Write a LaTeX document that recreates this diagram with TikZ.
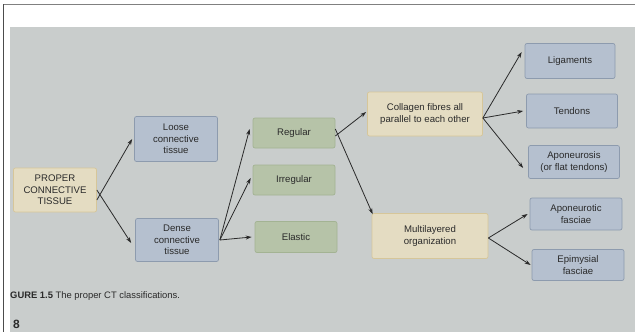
\documentclass[tikz,border=0pt]{standalone}
\usepackage{fontspec}
\setmainfont{Liberation Sans}
\usetikzlibrary{arrows.meta}
\definecolor{photo}{HTML}{C9CDCC}
\definecolor{beigef}{HTML}{E4DCC2}
\definecolor{beiged}{HTML}{D6C699}
\definecolor{bluef}{HTML}{B5C0CF}
\definecolor{blued}{HTML}{8D9BAE}
\definecolor{greenf}{HTML}{B6C3A8}
\definecolor{greend}{HTML}{A3B393}
\definecolor{ink}{HTML}{2A2A2A}
\tikzset{
  box/.style={draw, line width=0.7pt, rounded corners=2pt, align=center, font=\fontsize{9.6}{11.6}\selectfont, text=ink, inner sep=0pt},
  beigebox/.style={box, fill=beigef, draw=beiged},
  bluebox/.style={box, fill=bluef, draw=blued},
  greenbox/.style={box, fill=greenf, draw=greend},
  arr/.style={draw=ink, line width=0.8pt, -{Stealth[length=6pt,width=4pt]}}
}
\begin{document}
\begin{tikzpicture}[x=1pt,y=-1pt]
\useasboundingbox (0,0) rectangle (635,332);
\fill[white] (0,0) rectangle (635,332);
\fill[photo] (10,27) rectangle (635,332);
\draw[gray, line width=1.5pt] (3,4.5) -- (635,4.5);
\draw[black!70, line width=1.5pt] (3.5,4) -- (3.5,332);

\node[beigebox, minimum width=83pt, minimum height=44pt] (pct) at (55,190) {PROPER\\CONNECTIVE\\TISSUE};
\node[bluebox, minimum width=83pt, minimum height=45pt] (loose) at (176,139) {Loose\\connective\\tissue};
\node[bluebox, minimum width=83pt, minimum height=43pt] (dense) at (177,240) {Dense\\connective\\tissue};
\node[greenbox, minimum width=82pt, minimum height=30pt] (reg) at (294,133) {Regular};
\node[greenbox, minimum width=82pt, minimum height=30pt] (irr) at (294,180) {Irregular};
\node[greenbox, minimum width=82pt, minimum height=31pt] (ela) at (296,237) {Elastic};
\node[beigebox, minimum width=115pt, minimum height=44pt] (col) at (425,114) {Collagen fibres all\\parallel to each other};
\node[beigebox, minimum width=116pt, minimum height=45pt] (mul) at (430,236) {Multilayered\\organization};
\node[bluebox, minimum width=90pt, minimum height=35pt] (lig) at (570,61) {Ligaments};
\node[bluebox, minimum width=91pt, minimum height=34pt] (ten) at (572,111) {Tendons};
\node[bluebox, minimum width=91pt, minimum height=33pt] (apo) at (574,162) {Aponeurosis\\(or flat tendons)};
\node[bluebox, minimum width=92pt, minimum height=32pt] (apf) at (576,214) {Aponeurotic\\fasciae};
\node[bluebox, minimum width=92pt, minimum height=31pt] (epi) at (578,265) {Epimysial\\fasciae};

\draw[arr] ([yshift=-10pt]pct.east) -- ([xshift=-2pt]loose.west);
\draw[arr] ([yshift=0pt]pct.east) -- ([xshift=-4pt,yshift=-3pt]dense.west);
\draw[arr] ([xshift=1pt]dense.east) -- ([xshift=-3pt,yshift=4pt]reg.west);
\draw[arr] ([xshift=1pt]dense.east) -- ([xshift=-2pt,yshift=2pt]irr.west);
\draw[arr] ([xshift=1pt]dense.east) -- ([xshift=-3pt]ela.west);
\draw[arr] ([yshift=-3pt]reg.east) -- ([xshift=-1pt,yshift=2pt]col.west);
\draw[arr] ([yshift=4pt]reg.east) -- ([xshift=1pt,yshift=-1pt]mul.north west);
\draw[arr] ([yshift=-4pt]col.east) -- ([xshift=-3pt,yshift=9pt]lig.west);
\draw[arr] ([yshift=-4pt]col.east) -- ([xshift=-3pt]ten.west);
\draw[arr] ([yshift=-4pt]col.east) -- ([xshift=-5pt,yshift=-6pt]apo.west);
\draw[arr] ([yshift=-2pt]mul.east) -- ([xshift=-2pt]apf.west);
\draw[arr] ([yshift=-2pt]mul.east) -- ([xshift=-1pt]epi.west);

\node[anchor=west, font=\fontsize{9.4}{11}\selectfont, text=ink, inner sep=0pt] (cap) at (10,296) {\textbf{GURE 1.5} The proper CT classifications.};
\node[anchor=west, font=\bfseries\fontsize{12}{14}\selectfont, text=ink, inner sep=0pt] (pg) at (13,324) {8};
\end{tikzpicture}
\end{document}
